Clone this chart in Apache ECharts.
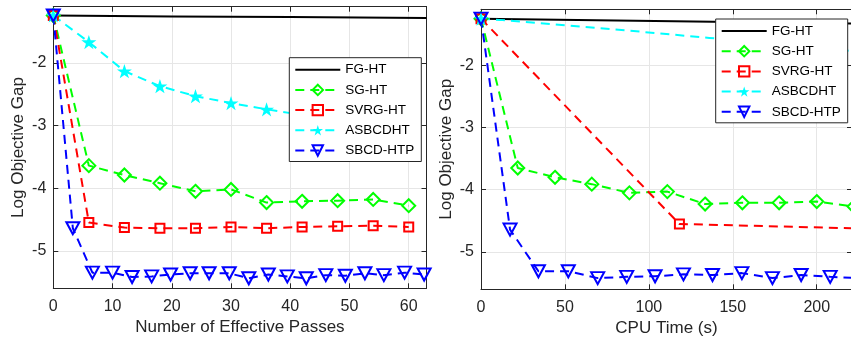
<!DOCTYPE html>
<html>
<head>
<meta charset="utf-8">
<script src="https://cdn.jsdelivr.net/npm/echarts@6/dist/echarts.min.js"></script>
<style>
html,body{margin:0;padding:0;background:#fff;}
#chart{width:851px;height:343px;}
</style>
</head>
<body>
<div id="chart"></div>
<script>
// ---------- data ----------
const seriesNames = ['FG-HT', 'SG-HT', 'SVRG-HT', 'ASBCDHT', 'SBCD-HTP'];

// Left panel: x = number of effective passes
const fgPasses = [0, 20, 40, 63];
const fgPassesY = [-1.24, -1.255, -1.265, -1.28];
const sgPasses = [0, 6, 12, 18, 24, 30, 36, 42, 48, 54, 60];
const sgPassesY = [-1.24, -3.64, -3.79, -3.92, -4.05, -4.02, -4.23, -4.21, -4.20, -4.18, -4.28];
const svrgPasses = [0, 6, 12, 18, 24, 30, 36, 42, 48, 54, 60];
const svrgPassesY = [-1.24, -4.55, -4.63, -4.64, -4.64, -4.62, -4.64, -4.62, -4.61, -4.60, -4.62];
const asbcdPasses = [0, 6, 12, 18, 24, 30, 36, 42];
const asbcdPassesY = [-1.24, -1.665, -2.13, -2.37, -2.53, -2.64, -2.74, -2.83];
const sbcdPasses = [0, 3.3, 6.6, 10, 13.3, 16.6, 19.8, 23.1, 26.3, 29.7, 33, 36.3, 39.5, 42.7, 46, 49.3, 52.6, 55.8, 59.3, 62.6];
const sbcdPassesY = [-1.24, -4.64, -5.35, -5.35, -5.42, -5.41, -5.38, -5.36, -5.36, -5.36, -5.44, -5.38, -5.41, -5.44, -5.39, -5.40, -5.36, -5.39, -5.35, -5.38];

// Right panel: x = CPU time (s)
const fgTime = [0, 138, 221];
const fgTimeY = [-1.25, -1.30, -1.33];
const sgTime = [0, 21.9, 44.1, 66, 88.4, 111, 133.5, 155.7, 177.6, 200, 222.2];
const sgTimeY = [-1.25, -3.65, -3.80, -3.91, -4.05, -4.03, -4.23, -4.21, -4.21, -4.19, -4.27];
const svrgTime = [0, 118.2, 236.4];
const svrgTimeY = [-1.25, -4.55, -4.63];
const asbcdTime = [0, 11, 95, 136, 221];
const asbcdTimeY = [-1.25, -1.27, -1.46, -1.56, -1.77];
const sbcdTime = [0, 17.3, 34.2, 52, 69.5, 86.8, 103.7, 120.6, 137.9, 155.4, 173.6, 190.7, 208, 225];
const sbcdTimeY = [-1.25, -4.64, -5.31, -5.31, -5.42, -5.40, -5.39, -5.36, -5.37, -5.34, -5.42, -5.37, -5.40, -5.42];

// axis settings
const yMin = -5.6, yMax = -1.1, yStep = 1;
const xLeftMax = 63, xLeftStep = 10;
const xRightMax = 221, xRightStep = 50;

// ---------- chart ----------
const FONT = '"Liberation Sans", Arial, Helvetica, sans-serif';
const AX = '#262626';
const GRIDC = '#e6e6e6';
const STAR = 'path://M50,0 L61.2,34.5 L97.6,34.5 L68.2,55.9 L79.4,90.5 L50,69.1 L20.6,90.5 L31.8,55.9 L2.4,34.5 L38.8,34.5 Z';

const zip = (xs, ys) => xs.map((x, i) => [x, ys[i]]);

function xAx(grid, pos, max, step, name, labels) {
  return {
    type: 'value', gridIndex: grid, position: pos, min: 0, max: max,
    minInterval: step, maxInterval: step,
    axisLine: { show: true, onZero: false, lineStyle: { color: AX, width: 1 } },
    axisTick: { show: true, inside: true, length: 5, lineStyle: { color: AX, width: 1 } },
    axisLabel: { show: labels, margin: 10, fontSize: 16, color: AX, fontFamily: FONT, showMinLabel: true, showMaxLabel: false },
    splitLine: { show: labels, lineStyle: { color: GRIDC, width: 1 } },
    name: labels ? name : '', nameLocation: 'middle', nameGap: 31,
    nameTextStyle: { fontSize: 17, color: AX, fontFamily: FONT }
  };
}
function yAx(grid, pos, labels) {
  return {
    type: 'value', gridIndex: grid, position: pos, min: yMin, max: yMax,
    minInterval: yStep, maxInterval: yStep,
    axisLine: { show: true, onZero: false, lineStyle: { color: AX, width: 1 } },
    axisTick: { show: true, inside: true, length: 5, lineStyle: { color: AX, width: 1 } },
    axisLabel: { show: labels, margin: 7, fontSize: 16, color: AX, fontFamily: FONT, showMinLabel: false, showMaxLabel: false },
    splitLine: { show: labels, lineStyle: { color: GRIDC, width: 1 } },
    name: labels ? 'Log Objective Gap' : '', nameLocation: 'middle', nameGap: 26,
    nameTextStyle: { fontSize: 17, color: AX, fontFamily: FONT }
  };
}

const DASH = [9, 6];
function mkSeries(panel, xs, ys) {
  const xi = panel * 2, yi = panel * 2;
  const base = { type: 'line', xAxisIndex: xi, yAxisIndex: yi, animation: false, silent: true, z: 2, clip: panel === 0 };
  return [
    Object.assign({}, base, {
      name: seriesNames[0], data: zip(xs[0], ys[0]), symbol: 'none',
      itemStyle: { color: 'rgba(0,0,0,0)' },
      lineStyle: { color: '#000000', width: 2, type: 'solid' }
    }),
    Object.assign({}, base, {
      name: seriesNames[1], data: zip(xs[1], ys[1]), symbol: 'diamond', symbolSize: 13,
      itemStyle: { color: 'rgba(0,0,0,0)', borderColor: '#00ff00', borderWidth: 2 },
      lineStyle: { color: '#00ff00', width: 2, type: DASH }
    }),
    Object.assign({}, base, {
      name: seriesNames[2], data: zip(xs[2], ys[2]), symbol: 'rect', symbolSize: 9,
      itemStyle: { color: 'rgba(0,0,0,0)', borderColor: '#ff0000', borderWidth: 2 },
      lineStyle: { color: '#ff0000', width: 2, type: DASH }
    }),
    Object.assign({}, base, {
      name: seriesNames[3],
      data: zip(xs[3], ys[3]).map((p, i) => (panel === 1 && i > 0) ? { value: p, symbol: 'none' } : p),
      symbol: STAR, symbolSize: 15, symbolKeepAspect: true,
      itemStyle: { color: '#00ffff', borderWidth: 0 },
      lineStyle: { color: '#00ffff', width: 2, type: DASH }
    }),
    Object.assign({}, base, {
      name: seriesNames[4], data: zip(xs[4], ys[4]), symbol: 'triangle', symbolSize: [13, 12], symbolRotate: 180,
      itemStyle: { color: 'rgba(0,0,0,0)', borderColor: '#0000ff', borderWidth: 2 },
      lineStyle: { color: '#0000ff', width: 2, type: DASH }
    })
  ];
}

function legend(left, top) {
  return {
    show: true, orient: 'vertical', left: left, top: top, data: seriesNames,
    selectedMode: false, itemWidth: 45, itemHeight: 13, itemGap: 6.2,
    padding: [5, 7, 4, 5], borderColor: AX, borderWidth: 1, backgroundColor: '#ffffff',
    textStyle: { fontSize: 13.5, color: '#000000', fontFamily: FONT }
  };
}

const chart = echarts.init(document.getElementById('chart'), null, { renderer: 'canvas' });
chart.setOption({
  animation: false,
  backgroundColor: '#ffffff',
  grid: [
    { left: 53.3, top: 6.7, width: 373.2, height: 281.6, outerBoundsMode: 'none', containLabel: false },
    { left: 481, top: 9.3, width: 371, height: 280, outerBoundsMode: 'none', containLabel: false }
  ],
  xAxis: [
    xAx(0, 'bottom', xLeftMax, xLeftStep, 'Number of Effective Passes', true),
    xAx(0, 'top', xLeftMax, xLeftStep, '', false),
    xAx(1, 'bottom', xRightMax, xRightStep, 'CPU Time (s)', true),
    xAx(1, 'top', xRightMax, xRightStep, '', false)
  ],
  yAxis: [
    yAx(0, 'left', true),
    yAx(0, 'right', false),
    yAx(1, 'left', true),
    yAx(1, 'right', false)
  ],
  legend: [legend(289.3, 57.7), legend(715.7, 19)],
  series: [].concat(
    mkSeries(0, [fgPasses, sgPasses, svrgPasses, asbcdPasses, sbcdPasses],
                [fgPassesY, sgPassesY, svrgPassesY, asbcdPassesY, sbcdPassesY]),
    mkSeries(1, [fgTime, sgTime, svrgTime, asbcdTime, sbcdTime],
                [fgTimeY, sgTimeY, svrgTimeY, asbcdTimeY, sbcdTimeY])
  )
});
</script>
</body>
</html>
